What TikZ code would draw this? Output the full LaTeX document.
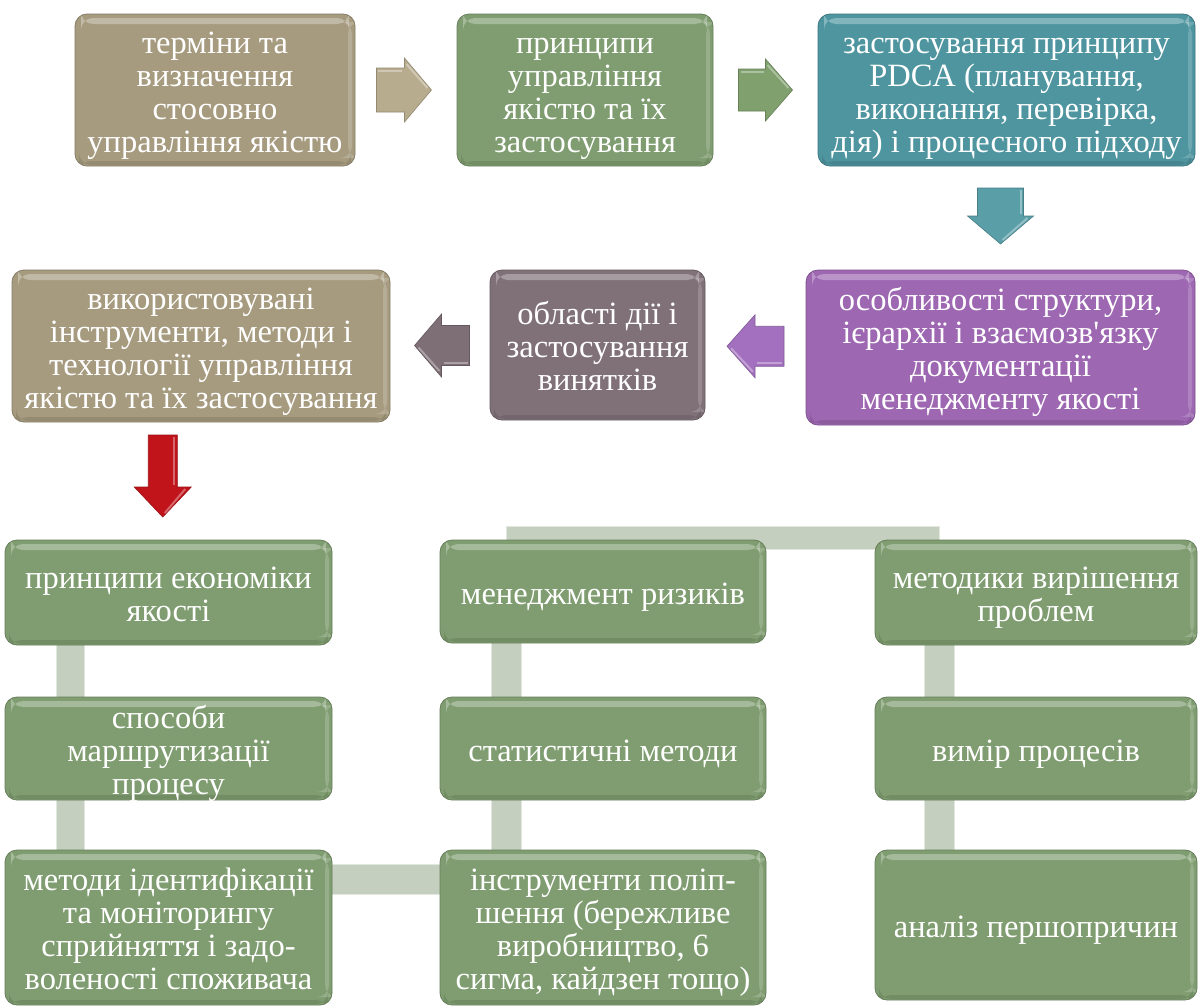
\documentclass[tikz,border=0pt]{standalone}
\usepackage{fontspec}
\setmainfont{Liberation Serif}
\newfontfamily\boxfont{Liberation Serif}
\usetikzlibrary{calc}
\pgfdeclarelayer{background}
\pgfsetlayers{background,main}
\definecolor{tanc}{RGB}{166,155,127}
\definecolor{greenc}{RGB}{127,157,112}
\definecolor{tealc}{RGB}{78,149,160}
\definecolor{purplec}{RGB}{157,103,178}
\definecolor{mauvec}{RGB}{128,113,120}
\definecolor{redc}{RGB}{192,20,26}
\definecolor{barc}{RGB}{197,207,191}
\definecolor{tanarr}{RGB}{184,172,142}
\definecolor{greenarr}{RGB}{128,160,110}
\definecolor{tealarr}{RGB}{90,158,168}
\definecolor{purplearr}{RGB}{162,112,190}
\definecolor{mauvearr}{RGB}{126,110,117}
% text block lowered a little, keeping its reported extents
\newcommand{\boxtxt}[1]{\raisebox{-6pt}[\height][\depth]{\begin{tabular}{@{}c@{}}#1\end{tabular}}}
\tikzset{
  box/.style={rounded corners=12pt, minimum width=#1, inner sep=0pt,
    text=white, font=\boxfont\fontsize{32.5}{33}\selectfont,
    path picture={
      \fill[white,opacity=0.30] ([xshift=6pt,yshift=-4pt]path picture bounding box.north west)
        rectangle ([xshift=-6pt,yshift=-10pt]path picture bounding box.north east);
      \fill[white,opacity=0.18] ([xshift=-7pt,yshift=-8pt]path picture bounding box.north east)
        rectangle ([xshift=-3pt,yshift=8pt]path picture bounding box.south east);
      \fill[black,opacity=0.10] ([xshift=4pt,yshift=5pt]path picture bounding box.south west)
        rectangle ([xshift=-4pt,yshift=1pt]path picture bounding box.south east);
    }},
  tanbox/.style={box=#1, fill=tanc, draw=tanc!80!black, line width=0.8pt},
  greenbox/.style={box=#1, fill=greenc, draw=greenc!80!black, line width=0.8pt},
  tealbox/.style={box=#1, fill=tealc, draw=tealc!80!black, line width=0.8pt},
  purplebox/.style={box=#1, fill=purplec, draw=purplec!80!black, line width=0.8pt},
  mauvebox/.style={box=#1, fill=mauvec, draw=mauvec!80!black, line width=0.8pt},
  bar/.style={fill=barc, draw=white!50!barc, line width=1.2pt},
}
% #1 centre, #2 rotation, #3 length, #4 shaft width, #5 head width, #6 head length, #7 colour
\newcommand{\blkarrow}[7]{%
  \begin{scope}[shift={(#1)}, rotate=#2]
    \filldraw[fill=#7, draw=#7!80!black, line width=0.6pt, line join=miter]
      (-#3/2,-#4/2) -- (#3/2-#6,-#4/2) -- (#3/2-#6,-#5/2) -- (#3/2,0)
      -- (#3/2-#6,#5/2) -- (#3/2-#6,#4/2) -- (-#3/2,#4/2) -- cycle;
    \draw[white, opacity=0.35, line width=2pt]
      (-#3/2+2,-#4/2+3) -- (#3/2-#6-2,-#4/2+3);
    \draw[white, opacity=0.35, line width=2pt]
      (#3/2-#6+2,-#5/2+6) -- (#3/2-4,-2);
  \end{scope}}
\begin{document}
\begin{tikzpicture}[x=1pt,y=-1pt]
\useasboundingbox (0,0) rectangle (1198,1007);

% top row
\node[tanbox=280pt, minimum height=152pt] (b1) at (215,90)
  {\boxtxt{терміни та\\визначення\\стосовно\\управління якістю}};
\node[greenbox=256pt, minimum height=152pt] (b2) at (585,90)
  {\boxtxt{принципи\\управління\\якістю та їх\\застосування}};
\node[tealbox=377pt, minimum height=152pt] (b3) at (1006.5,90)
  {\boxtxt{застосування принципу\\PDCA (планування,\\виконання, перевірка,\\дія) і процесного підходу}};
% second row
\node[purplebox=389pt, minimum height=155pt] (b4) at (1000.5,347.5)
  {\boxtxt{особливості структури,\\ієрархії і взаємозв'язку\\документації\\менеджменту якості}};
\node[mauvebox=215pt, minimum height=150pt] (b5) at (597.5,345)
  {\boxtxt{області дії і\\застосування\\винятків}};
\node[tanbox=378pt, minimum height=152pt] (b6) at (201,346)
  {\boxtxt{використовувані\\інструменти, методи і\\технології управління\\якістю та їх застосування}};

% bottom boxes
\node[greenbox=327pt, minimum height=105pt] (c11) at (168.5,592.5) {\boxtxt{принципи економіки\\якості}};
\node[greenbox=327pt, minimum height=103pt] (c12) at (168.5,748.5) {\boxtxt{способи\\маршрутизації\\процесу}};
\node[greenbox=327pt, minimum height=155pt] (c13) at (168.5,927.5)
  {\boxtxt{методи ідентифікації\\та моніторингу\\сприйняття і задо-\\воленості споживача}};
\node[greenbox=326pt, minimum height=103pt] (c21) at (603,591.5) {\boxtxt{менеджмент ризиків}};
\node[greenbox=326pt, minimum height=103pt] (c22) at (603,748.5) {\boxtxt{статистичні методи}};
\node[greenbox=326pt, minimum height=155pt] (c23) at (603,927.5)
  {\boxtxt{інструменти поліп-\\шення (бережливе\\виробництво, 6\\сигма, кайдзен тощо)}};
\node[greenbox=322pt, minimum height=105pt] (c31) at (1036,592.5) {\boxtxt{методики вирішення\\проблем}};
\node[greenbox=322pt, minimum height=103pt] (c32) at (1036,748.5) {\boxtxt{вимір процесів}};
\node[greenbox=322pt, minimum height=150pt] (c33) at (1036,925) {\boxtxt{аналіз першопричин}};

% block arrows between boxes
\coordinate (a1) at ($(b1.east)!0.48!(b2.west)$);
\coordinate (a2) at ($(b2.east)!0.5!(b3.west)$);
\coordinate (a3) at ($(b3.south)!0.5!(b4.north)+(-3,-2)$);
\coordinate (a4) at ($(b4.west)!0.5!(b5.east)$);
\coordinate (a5) at ($(b5.west)!0.5!(b6.east)+(2,0)$);
\coordinate (a6) at ($(b6.south)!0.5!(c11.north)+(-22,-5)$);
\blkarrow{a1}{0}{55}{44}{64}{27}{tanarr}
\blkarrow{a2}{0}{54}{42}{62}{27}{greenarr}
\blkarrow{a3}{-90}{56}{46}{66}{28}{tealarr}
\blkarrow{a4}{180}{57}{40}{63}{28}{purplearr}
\blkarrow{a5}{180}{55}{40}{63}{27}{mauvearr}
\blkarrow{a6}{-90}{82}{29}{57}{30}{redc}

% connector bars (behind boxes)
\begin{pgfonlayer}{background}
  \fill[white] (0,0) rectangle (1198,1007);
  \path[bar] ($(c11.south west)+(52,-2)$) rectangle ($(c13.north west)+(80,2)$);
  \path[bar] ($(c13.north east)+(-5,15)$) rectangle ($(c23.north west)+(5,45)$);
  \path[bar] ($(c21.north west)+(67,-13)$) rectangle ($(c31.north west)+(65,10)$);
  \path[bar] ($(c21.south west)+(52,-2)$) rectangle ($(c23.north west)+(82,2)$);
  \path[bar] ($(c31.south west)+(50,-2)$) rectangle ($(c33.north west)+(80,2)$);
\end{pgfonlayer}
\end{tikzpicture}
\end{document}
